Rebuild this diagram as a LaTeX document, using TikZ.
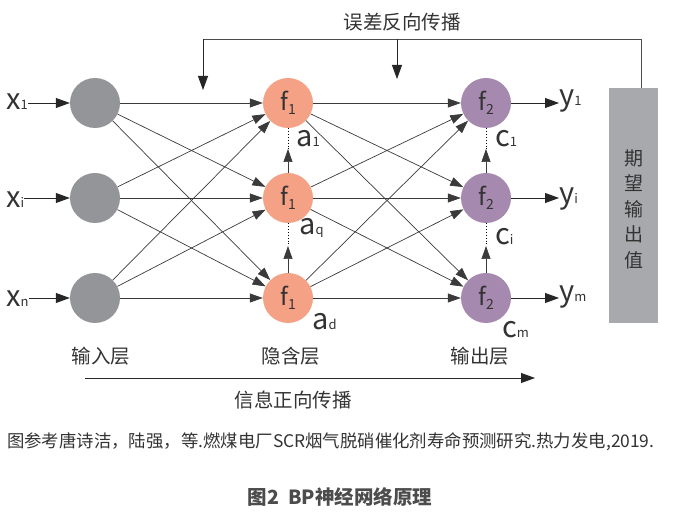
\documentclass[tikz,border=0pt]{standalone}
\usepackage{fontspec}
\setmainfont{Noto Sans CJK SC}
\usetikzlibrary{arrows.meta}
\definecolor{inGray}{HTML}{939598}
\definecolor{hidSal}{HTML}{F4A186}
\definecolor{outPur}{HTML}{A689AE}
\definecolor{boxGray}{HTML}{A7A9AC}
\definecolor{txt}{HTML}{333333}
\definecolor{edge}{HTML}{3A3A3A}
\newcommand{\mysub}[1]{{\fontsize{13}{13}\selectfont #1}}
\newcommand{\mysubb}[1]{\raisebox{-0.35ex}{\fontsize{14}{14}\selectfont #1}}
\tikzset{
  neuron/.style={circle, minimum size=50pt, inner sep=0pt, draw=none},
  inn/.style={neuron, fill=inGray},
  hid/.style={neuron, fill=hidSal, text=txt, font=\fontsize{24}{24}\selectfont},
  outn/.style={neuron, fill=outPur, text=txt, font=\fontsize{24}{24}\selectfont},
  varlab/.style={inner sep=0pt, text=txt, font=\fontsize{29}{29}\selectfont, anchor=base west},
  sublab/.style={inner sep=0pt, text=txt, font=\fontsize{29}{29}\selectfont, anchor=base west},
  cjk/.style={inner sep=0pt, text=txt, font=\fontsize{19.5}{19.5}\selectfont},
  conn/.style={draw=edge, line width=0.7pt, -{Triangle[length=13pt,width=9pt]}},
  bigarr/.style={draw=black!85, line width=0.8pt, -{Triangle[length=14pt,width=10pt]}},
  fbline/.style={draw=black!70, line width=0.8pt},
}
\begin{document}
\begin{tikzpicture}[x=1pt,y=-1pt]
\useasboundingbox (0,0) rectangle (673,518);
% input
\node[inn] (I1) at (95,103) {};
\node[inn] (I2) at (95,198) {};
\node[inn] (I3) at (95,298) {};
% hidden
\node[hid] (H1) at (288,103) {f\mysubb{1}};
\node[hid] (H2) at (288,198) {f\mysubb{1}};
\node[hid] (H3) at (288,298) {f\mysubb{1}};
% output
\node[outn] (O1) at (486,103) {f\mysubb{2}};
\node[outn] (O2) at (486,198) {f\mysubb{2}};
\node[outn] (O3) at (486,298) {f\mysubb{2}};
% x labels
\node[varlab] (X1) at (6,110) {x\mysub{1}};
\node[varlab] (X2) at (6,208) {x\mysub{i}};
\node[varlab] (X3) at (6,307) {x\mysub{n}};
\draw[bigarr] (X1.east |- I1) -- (I1);
\draw[bigarr] (X2.east |- I2) -- (I2);
\draw[bigarr] (X3.east |- I3) -- (I3);
% y labels
\node[varlab] (Y1) at (559,106) {y\mysub{1}};
\node[varlab] (Y2) at (559,204) {y\mysub{i}};
\node[varlab] (Y3) at (559,302) {y\mysub{m}};
\draw[bigarr] (O1) -- (Y1.west |- O1);
\draw[bigarr] (O2) -- (Y2.west |- O2);
\draw[bigarr] (O3) -- (Y3.west |- O3);
% connections
\foreach \i in {1,2,3}{
  \foreach \j in {1,2,3}{
    \draw[conn] (I\i) -- (H\j);
    \draw[conn] (H\i) -- (O\j);
  }
}
% dotted + upward arrows in hidden and output layers
\coordinate (hm1) at (288,149);
\coordinate (hm2) at (288,246);
\coordinate (om1) at (486,149);
\coordinate (om2) at (486,246);
\draw[dotted, line width=0.9pt] (H1.south) -- (hm1);
\draw[dotted, line width=0.9pt] (H2.south) -- (hm2);
\draw[conn] (H2.north) -- (hm1);
\draw[conn] (H3.north) -- (hm2);
\draw[dotted, line width=0.9pt] (O1.south) -- (om1);
\draw[dotted, line width=0.9pt] (O2.south) -- (om2);
\draw[conn] (O2.north) -- (om1);
\draw[conn] (O3.north) -- (om2);
% a and c labels
\node[sublab] (A1) at (296,147) {a\mysub{1}};
\node[sublab] (A2) at (299,235) {a\mysub{q}};
\node[sublab] (A3) at (312,330) {a\mysub{d}};
\node[sublab] (C1) at (495,147) {c\mysub{1}};
\node[sublab] (C2) at (495,245) {c\mysub{i}};
\node[sublab] (C3) at (502,338) {c\mysub{m}};
% desired output box
\node[fill=boxGray, minimum width=49pt, minimum height=235pt, inner sep=0pt] (box) at (633.5,205.5) {};
\node[cjk, align=center, font=\fontsize{19}{25.5}\selectfont] (boxtxt) at (633.5,209) {期\\望\\输\\出\\值};
% feedback
\coordinate (fbR) at (641,39);
\coordinate (fbL) at (203,39);
\coordinate (fbM) at (397,39);
\coordinate (fbLend) at (203,90);
\coordinate (fbMend) at (397,79);
\draw[fbline] (box.north -| fbR) -- (fbR) -- (fbL);
\draw[bigarr] (fbL) -- (fbLend);
\draw[bigarr] (fbM) -- (fbMend);
\node[cjk] (title) at (402,22) {误差反向传播};
% layer labels
\node[cjk] (L1) at (101,356) {输入层};
\node[cjk] (L2) at (291,356) {隐含层};
\node[cjk] (L3) at (480,356) {输出层};
% forward arrow
\coordinate (fwS) at (85,378);
\coordinate (fwE) at (535,378);
\draw[bigarr] (fwS) -- (fwE);
\node[cjk] (fwtxt) at (293,400) {信息正向传播};
% citation and caption
\node[inner sep=0pt, anchor=west, text=txt, font=\fontsize{17.4}{17.4}\selectfont] (cite) at (7,442) {图参考唐诗洁，陆强，等.燃煤电厂SCR烟气脱硝催化剂寿命预测研究.热力发电,2019.};
\node[inner sep=0pt, text=black!70, font=\bfseries\fontsize{19.5}{19.5}\selectfont] (cap) at (340,497) {图2\ \ BP神经网络原理};
\end{tikzpicture}
\end{document}
